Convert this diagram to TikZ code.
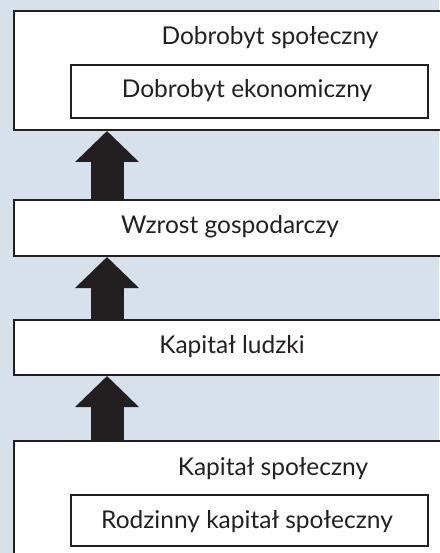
\documentclass[tikz,border=0pt]{standalone}
\usepackage{fontspec}
\setmainfont{Lato}
\usetikzlibrary{arrows.meta}
\definecolor{bg}{HTML}{D6E1EB}
\definecolor{ink}{HTML}{231F20}
\tikzset{
  boxframe/.style={draw=ink, line width=2pt, fill=white, inner sep=0pt},
  label/.style={anchor=base, font=\fontsize{24.5}{28}\selectfont, text=ink, inner sep=0pt},
  bigarrow/.style={draw=ink, line width=33pt, -{Triangle[width=62pt,length=31pt]}},
}
\begin{document}
\begin{tikzpicture}[x=1pt,y=1pt]
\useasboundingbox (0,0) rectangle (439,-553);
\fill[bg] (0,0) rectangle (439,-553);
% boxes
\node[boxframe, anchor=north west, minimum width=520pt, minimum height=119pt] (top) at (13,-10) {};
\node[boxframe, anchor=north west, minimum width=357pt, minimum height=53pt] (eko) at (70,-64) {};
\node[boxframe, anchor=north west, minimum width=520pt, minimum height=56pt] (wz) at (13,-199) {};
\node[boxframe, anchor=north west, minimum width=520pt, minimum height=55pt] (kl) at (13,-319) {};
\node[boxframe, anchor=north west, minimum width=520pt, minimum height=160pt] (ks) at (13,-440) {};
\node[boxframe, anchor=north west, minimum width=357pt, minimum height=51pt] (rks) at (70,-494) {};
% texts
\node[label] (t1) at (270,-45) {Dobrobyt społeczny};
\node[label] (t2) at (247,-98) {Dobrobyt ekonomiczny};
\node[label] (t3) at (230,-233) {Wzrost gospodarczy};
\node[label] (t4) at (232,-353) {Kapitał ludzki};
\node[label] (t5) at (273,-475) {Kapitał społeczny};
\node[label] (t6) at (247,-528) {Rodzinny kapitał społeczny};
% arrows
\coordinate (ax) at (107,0);
\draw[bigarrow] (wz.north -| ax) -- (top.south -| ax);
\draw[bigarrow] (kl.north -| ax) -- (wz.south -| ax);
\draw[bigarrow] (ks.north -| ax) -- (kl.south -| ax);
\end{tikzpicture}
\end{document}
